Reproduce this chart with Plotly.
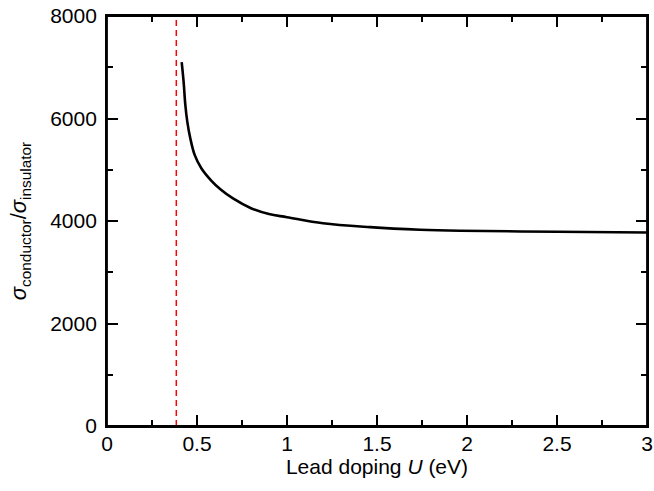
import plotly.graph_objects as go

# Data
lead_doping_U = [0.415, 0.426, 0.435, 0.446, 0.463, 0.487, 0.524, 0.579, 0.63,
                 0.70, 0.80, 0.90, 1.0, 1.2, 1.461, 1.739, 1.961, 2.5, 3.0]
conductivity_ratio = [7100, 6700, 6270, 5940, 5610, 5290, 5030, 4790, 4620,
                      4440, 4250, 4135, 4075, 3955, 3880, 3830, 3810, 3790, 3775]
critical_U = 0.385

x_ticks = [0, 0.5, 1, 1.5, 2, 2.5, 3]
x_tick_labels = ["0", "0.5", "1", "1.5", "2", "2.5", "3"]
y_ticks = [0, 2000, 4000, 6000, 8000]
y_tick_labels = ["0", "2000", "4000", "6000", "8000"]

FONT = "Liberation Sans, Arial, Helvetica, sans-serif"

fig = go.Figure()
fig.add_trace(go.Scatter(
    x=lead_doping_U, y=conductivity_ratio, mode="lines",
    line=dict(color="black", width=2.6, shape="spline", smoothing=1.0),
    showlegend=False, hoverinfo="skip"))

fig.add_vline(x=critical_U, line=dict(color="#ff0000", width=1.5, dash="6px,4px"))

# full frame around the plotting area
fig.add_shape(type="rect", xref="x domain", yref="y domain", x0=0, x1=1, y0=0, y1=1,
              line=dict(color="black", width=1.8), fillcolor="rgba(0,0,0,0)", layer="above")

axis_common = dict(
    showgrid=False, zeroline=False, showline=True, linecolor="black", linewidth=1.8,
    mirror="ticks", ticks="inside", ticklen=11, tickwidth=1.5, tickcolor="black",
    tickfont=dict(family=FONT, size=21, color="black"), automargin=False,
    ticklabeloverflow="allow",
)

fig.update_xaxes(
    range=[0, 3], tickvals=x_ticks, ticktext=x_tick_labels,
    minor=dict(ticks="inside", ticklen=6, tickwidth=1.5, tickcolor="black", dtick=0.25, showgrid=False),
    title=dict(text="Lead doping <i>U</i> (eV)", font=dict(family=FONT, size=21, color="black"), standoff=5),
    ticklabelstandoff=-2,
    **axis_common)
fig.update_yaxes(
    range=[0, 8000], tickvals=y_ticks, ticktext=y_tick_labels,
    minor=dict(ticks="inside", ticklen=6, tickwidth=1.5, tickcolor="black", dtick=1000, showgrid=False),
    title=dict(text="<i>σ</i><sub>conductor</sub>/<i>σ</i><sub>insulator</sub>",
               font=dict(family=FONT, size=22, color="black"), standoff=17),
    ticklabelstandoff=4,
    **axis_common)

fig.update_layout(
    width=654, height=491,
    margin=dict(l=107, r=7, t=16, b=65),
    paper_bgcolor="white", plot_bgcolor="white",
    font=dict(family=FONT, size=21, color="black"),
)

# remove the default page margin so the 654x491 figure fills the window exactly
fig.write_html("out.html", config={"displayModeBar": False},
               post_script="document.body.style.margin='0';document.body.style.overflow='hidden';")
